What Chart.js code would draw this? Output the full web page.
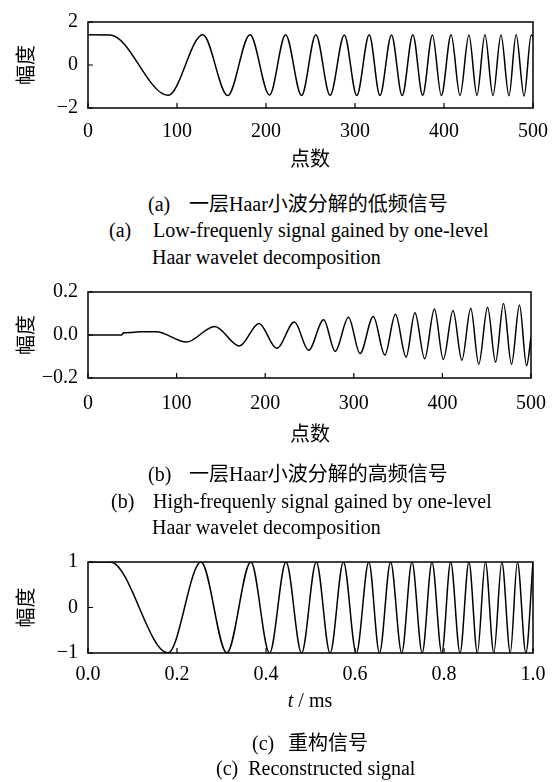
<!DOCTYPE html>
<html>
<head>
<meta charset="utf-8">
<script src="https://cdn.jsdelivr.net/npm/chart.js@4.4.0/dist/chart.umd.min.js"></script>
<style>
  html, body { margin: 0; padding: 0; background: #fff; }
  body { width: 560px; height: 782px; position: relative; overflow: hidden;
         font-family: "Liberation Serif", "Noto Sans CJK SC", serif; font-size: 20px; color: #000; }
  .panel { position: absolute; left: 0; width: 560px; height: 150px; }
  .txt { position: absolute; line-height: 20px; white-space: nowrap; }
  .cjk { font-family: "Noto Sans CJK SC", sans-serif; }
  .ctr { width: 120px; text-align: center; }
</style>
</head>
<body>
<div class="panel" style="top:0px"><canvas id="chartA"></canvas></div>
<div class="panel" style="top:270px"><canvas id="chartB"></canvas></div>
<div class="panel" style="top:540px"><canvas id="chartC"></canvas></div>

<div class="txt cjk ctr" style="left:250px;top:148px">点数</div>
<div class="txt" style="left:148px;top:193px"><span style="display:inline-block;width:41px">(a)</span><span class="cjk">一层</span>Haar<span class="cjk">小波分解的低频信号</span></div>
<div class="txt" style="left:109px;top:220px"><span style="display:inline-block;width:44px">(a)</span>Low-frequenly signal gained by one-level</div>
<div class="txt" style="left:152px;top:247px">Haar wavelet decomposition</div>

<div class="txt cjk ctr" style="left:250px;top:423px">点数</div>
<div class="txt" style="left:148px;top:463px"><span style="display:inline-block;width:41px">(b)</span><span class="cjk">一层</span>Haar<span class="cjk">小波分解的高频信号</span></div>
<div class="txt" style="left:111px;top:491px"><span style="display:inline-block;width:42px">(b)</span>High-frequenly signal gained by one-level</div>
<div class="txt" style="left:152px;top:517px">Haar wavelet decomposition</div>

<div class="txt ctr" style="left:250px;top:690px"><i>t</i> / ms</div>
<div class="txt" style="left:252px;top:732px"><span style="display:inline-block;width:36px">(c)</span><span class="cjk">重构信号</span></div>
<div class="txt" style="left:216px;top:758px">(c)&nbsp; Reconstructed signal</div>

<script>
// (a) low-frequency part: extrema (point index, amplitude)
const aX = [0, 25, 90, 129, 157, 182, 204, 222, 240, 256, 272, 288, 302, 316, 328, 341,
  353, 365, 376, 387, 397, 408, 418, 428, 437, 446, 455, 464, 473, 481, 490, 498, 500];
const aY = [1.41, 1.40, -1.41, 1.41, -1.42, 1.41, -1.40, 1.41, -1.42, 1.41, -1.41, 1.40,
  -1.42, 1.41, -1.42, 1.40, -1.42, 1.41, -1.41, 1.40, -1.42, 1.41, -1.42, 1.40, -1.41,
  1.41, -1.42, 1.40, -1.43, 1.41, -1.44, 1.40, 1.30];

// (b) high-frequency part
const bX = [0, 38, 40, 50, 60, 77, 111, 143, 171, 193, 213, 233, 249, 266, 279, 294, 307,
  322, 335, 347, 359, 369, 380, 391, 401, 412, 422, 432, 441, 451, 460, 469, 478, 487, 495, 500];
const bY = [0, 0, 0.010, 0.012, 0.015, 0.015, -0.033, 0.040, -0.051, 0.054, -0.062, 0.060,
  -0.071, 0.071, -0.076, 0.083, -0.086, 0.086, -0.093, 0.097, -0.103, 0.104, -0.111, 0.121,
  -0.114, 0.114, -0.117, 0.124, -0.136, 0.129, -0.126, 0.146, -0.136, 0.139, -0.143, -0.010];

// (c) reconstructed signal, t in ms
const cX = [0, 0.05, 0.18, 0.254, 0.312, 0.366, 0.408, 0.445, 0.48, 0.513, 0.544, 0.574,
  0.603, 0.631, 0.655, 0.68, 0.705, 0.728, 0.751, 0.773, 0.795, 0.815, 0.836, 0.856, 0.875,
  0.893, 0.912, 0.93, 0.949, 0.965, 0.984, 1.0];
const cY = [1, 1, -1, 1, -1, 1, -1, 1, -1, 1, -1, 1, -1, 1, -1, 1, -1, 1, -1, 1, -1, 1,
  -1, 1, -1, 1, -1, 1, -1, 1, -1, 1];

const tickFont = { family: '"Liberation Serif", serif', size: 20 };
const minus = v => String(v).replace('-', '\u2212');

// box round the plot plus short inward ticks
const framePlugin = {
  id: 'frame',
  afterDatasetsDraw(chart) {
    const { ctx, chartArea: a, scales } = chart;
    ctx.save();
    ctx.strokeStyle = '#000';
    ctx.lineWidth = 1.5;
    ctx.strokeRect(a.left, a.top, a.width, a.height);
    ctx.lineWidth = 1.2;
    ctx.beginPath();
    scales.x.ticks.forEach(t => {
      const px = scales.x.getPixelForValue(t.value);
      ctx.moveTo(px, a.bottom);
      ctx.lineTo(px, a.bottom - 5);
    });
    scales.y.ticks.forEach(t => {
      const py = scales.y.getPixelForValue(t.value);
      ctx.moveTo(a.left, py);
      ctx.lineTo(a.left + 5, py);
    });
    ctx.stroke();
    ctx.restore();
  }
};

function makeChart(id, xs, ys, o) {
  const pts = xs.map((x, i) => ({ x: x, y: ys[i] }));
  return new Chart(document.getElementById(id), {
    type: 'line',
    data: {
      datasets: [{
        data: pts,
        borderColor: '#000',
        borderWidth: 1.5,
        pointRadius: 0,
        fill: false,
        cubicInterpolationMode: 'monotone'
      }]
    },
    options: {
      responsive: true,
      maintainAspectRatio: false,
      animation: false,
      layout: { padding: { top: o.padTop, right: 27, left: 0, bottom: 0 } },
      plugins: { legend: { display: false }, tooltip: { enabled: false } },
      scales: {
        x: {
          type: 'linear', min: o.xMin, max: o.xMax,
          grid: { display: false, drawTicks: false },
          border: { display: false },
          ticks: { stepSize: o.xStep, padding: o.xPad, color: '#000', font: tickFont,
                   maxRotation: 0, autoSkip: false, callback: o.xFmt },
          afterFit: s => { s.height = o.xH; }
        },
        y: {
          min: o.yMin, max: o.yMax,
          grid: { display: false, drawTicks: false },
          border: { display: false },
          ticks: { stepSize: o.yStep, padding: 10, color: '#000', font: tickFont, callback: o.yFmt },
          title: { display: true, text: '幅度', color: '#000',
                   font: { family: '"Noto Sans CJK SC", sans-serif', size: 20 },
                   padding: { top: 13, bottom: 0 } },
          afterFit: s => { s.width = 88; }
        }
      }
    },
    plugins: [framePlugin]
  });
}

makeChart('chartA', aX, aY, {
  padTop: 13, xH: 42, xPad: 12, xMin: 0, xMax: 500, xStep: 100, xFmt: v => v,
  yMin: -2, yMax: 2, yStep: 2, yFmt: v => minus(v)
});
makeChart('chartB', bX, bY, {
  padTop: 15, xH: 42, xPad: 14, xMin: 0, xMax: 500, xStep: 100, xFmt: v => v,
  yMin: -0.2, yMax: 0.2, yStep: 0.2, yFmt: v => minus(v.toFixed(1))
});
makeChart('chartC', cX, cY, {
  padTop: 16, xH: 37, xPad: 10, xMin: 0, xMax: 1, xStep: 0.2, xFmt: v => v.toFixed(1),
  yMin: -1, yMax: 1, yStep: 1, yFmt: v => minus(v)
});
</script>
</body>
</html>
